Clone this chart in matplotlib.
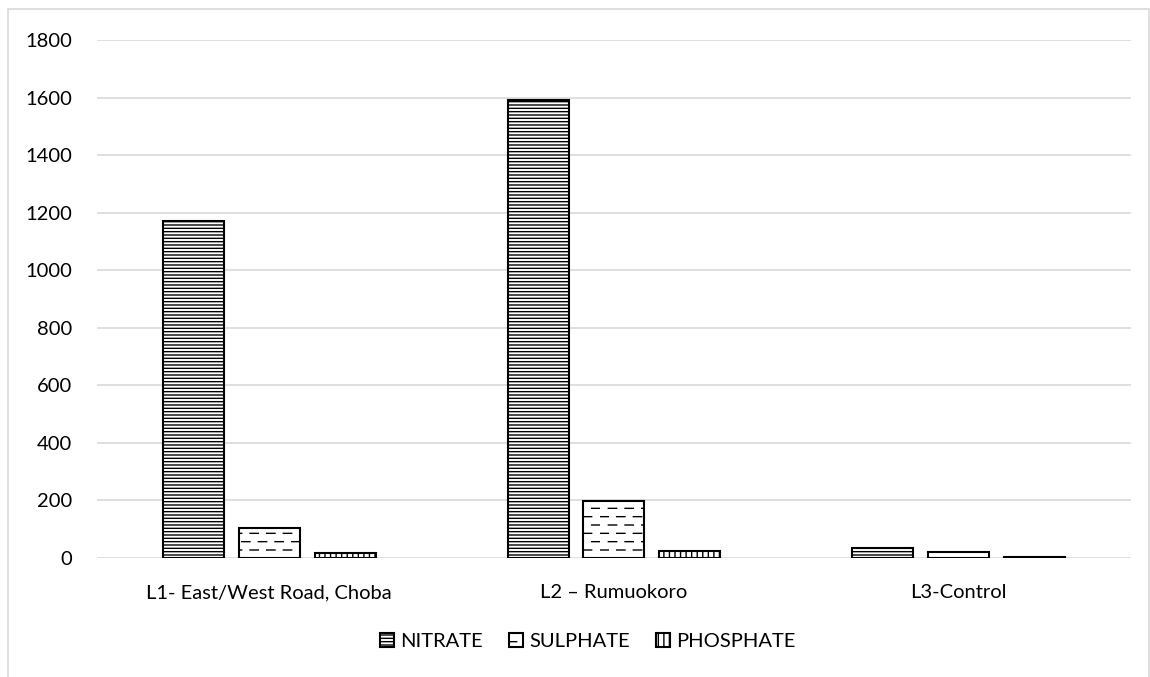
import warnings
import numpy as np
import matplotlib
matplotlib.use("Agg")
import matplotlib.pyplot as plt
import matplotlib.hatch as mhatch
from matplotlib.path import Path
from matplotlib.patches import Rectangle

warnings.filterwarnings('ignore')

# データ
categories = ["L1- East/West Road, Choba", "L2 \u2013 Rumuokoro", "L3-Control"]
series_names = ["NITRATE", "SULPHATE", "PHOSPHATE"]
nitrate = [1170, 1592, 34]
sulphate = [102, 195, 19]
phosphate = [16, 22, 3]


# 破線ハッチ（SULPHATE用）
class DashedHatch(mhatch.HatchPatternBase):
    def __init__(self, hatch, density):
        self.num_rows = int(hatch.count('_') * density)
        self.num_dash = 6
        self.num_vertices = self.num_rows * self.num_dash * 2

    def set_vertices_and_codes(self, vertices, codes):
        i = 0
        for r in range(self.num_rows):
            y = r / self.num_rows
            off = 0.5 / self.num_dash if r % 2 else 0.0
            for d in range(self.num_dash):
                x0 = d / self.num_dash + off
                vertices[i] = (x0, y)
                vertices[i + 1] = (x0 + 0.5 / self.num_dash, y)
                codes[i] = Path.MOVETO
                codes[i + 1] = Path.LINETO
                i += 2


mhatch._hatch_types.append(DashedHatch)

plt.rcParams['font.family'] = ['Lato', 'DejaVu Sans']
plt.rcParams['hatch.linewidth'] = 1.0
plt.rcParams['hatch.color'] = 'black'

fig = plt.figure(figsize=(11.5, 6.77), dpi=100)
ax = fig.add_axes([0.0843, 0.1765, 0.8992, 0.7644])

x = np.arange(len(categories))
w = 0.177
step = 0.22
hatches = ['-----', '__', '|||']
data = [nitrate, sulphate, phosphate]

for k, (vals, name, h) in enumerate(zip(data, series_names, hatches)):
    ax.bar(x + (k - 1) * step, vals, w, label=name, color='white',
           edgecolor='black', linewidth=1.5, hatch=h, zorder=3)

ax.set_xlim(-0.5, 2.5)
ax.set_ylim(0, 1800)
ax.set_yticks(np.arange(0, 1801, 200))
ax.set_xticks(x)
ax.set_xticklabels(categories)
ax.grid(axis='y', color='#d9d9d9', linewidth=1.2, zorder=0)
for s in ax.spines.values():
    s.set_visible(False)
ax.tick_params(axis='both', length=0, labelsize=14.5, colors='#000000')
ax.tick_params(axis='x', pad=19)
ax.tick_params(axis='y', pad=18)

leg = fig.legend(loc='center', bbox_to_anchor=(0.511, 0.053), ncol=3, frameon=False,
                 fontsize=14.5, handlelength=0.7, handleheight=0.7,
                 handletextpad=0.3, columnspacing=1.3)

# 外枠
fig.patches.append(Rectangle((8 / 1150, -0.05), 1141 / 1150, 1.05 - 9 / 677,
                             transform=fig.transFigure, fill=False,
                             edgecolor='#d9d9d9', linewidth=1.2))

plt.savefig('out.png', dpi=100)
